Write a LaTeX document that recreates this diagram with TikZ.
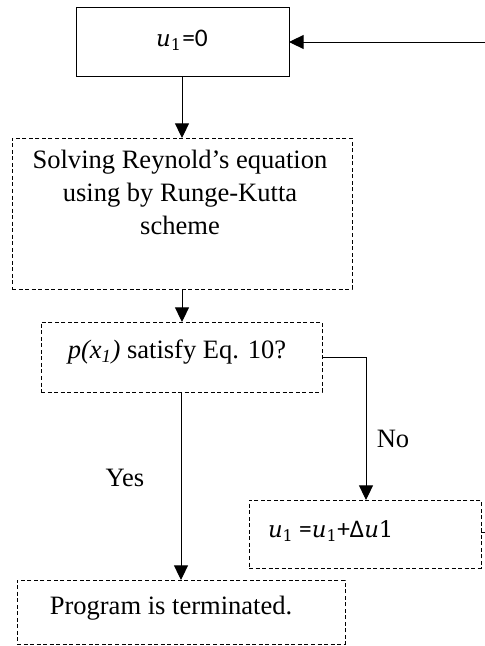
\documentclass[tikz,border=0pt]{standalone}
\usepackage{fontspec}
\setmainfont{Liberation Serif}
\newfontfamily\calfont{Carlito}
\newfontfamily\mlike[Scale=0.9]{DejaVu Serif}
\newcommand{\uvar}{{\mlike\itshape u}}
\newcommand{\uone}{\uvar\textsubscript{\mlike 1}}
\usetikzlibrary{arrows.meta}
\begin{document}
\begin{tikzpicture}[x=0.75pt,y=-0.75pt,
  every node/.style={inner sep=0pt,outer sep=0pt},
  solidbox/.style={draw=black,line width=0.75pt,rectangle},
  dashbox/.style={draw=black,line width=0.75pt,rectangle,dash pattern=on 3pt off 1.9pt},
  conn/.style={draw=black,line width=0.75pt},
  arr/.style={conn,-{Triangle[width=10.5pt,length=11pt]}},
  serif/.style={font=\fontsize{19.9}{24.9}\selectfont},
  calib/.style={font=\calfont\fontsize{19}{23}\selectfont}]
\useasboundingbox (0,0) rectangle (485,646);
% boxes
\node[solidbox,minimum width=213*0.75pt,minimum height=69*0.75pt] (top) at (182.5,41.5) {};
\node[calib] (ttop) at (182,40) {\uone\kern0.5pt=0};
\node[dashbox,minimum width=340*0.75pt,minimum height=151*0.75pt] (b2) at (182,213.5) {};
\node[serif,align=center,anchor=north] (t2) at (180,150) {Solving Reynold’s equation\\using by Runge-Kutta\\scheme};
\node[dashbox,minimum width=281*0.75pt,minimum height=70*0.75pt] (b3) at (181.5,357) {};
\node[serif] (t3) at (177,352) {\textit{p(x\textsubscript{1})} satisfy Eq. 10?};
\node[dashbox,minimum width=232*0.75pt,minimum height=68*0.75pt] (b4) at (365,534) {};
\node[calib,anchor=west] (t4) at (268,531) {\uone{} =\uone+Δ\uvar{\mlike 1}};
\node[dashbox,minimum width=328*0.75pt,minimum height=64*0.75pt] (b5) at (181,612) {};
\node[serif] (t5) at (171,608) {Program is terminated.};
% labels
\node[serif] (no) at (393,439) {No};
\node[serif] (yes) at (125,478) {Yes};
% connectors
\coordinate (fbin) at (485,42);
\coordinate (fbout) at (485,532);
\coordinate (bend) at (366,357);
\draw[arr] (fbin) -- (top.east |- fbin);
\draw[arr] (top.south -| 182,0) -- (b2.north -| 182,0);
\draw[arr] (b2.south -| 182,0) -- (b3.north -| 182,0);
\draw[arr] (b3.east |- bend) -- (bend) -- (bend |- b4.north);
\draw[arr] (b3.south -| 181,0) -- (b5.north -| 181,0);
\draw[conn] (b4.east |- fbout) -- (fbout);
\end{tikzpicture}
\end{document}
